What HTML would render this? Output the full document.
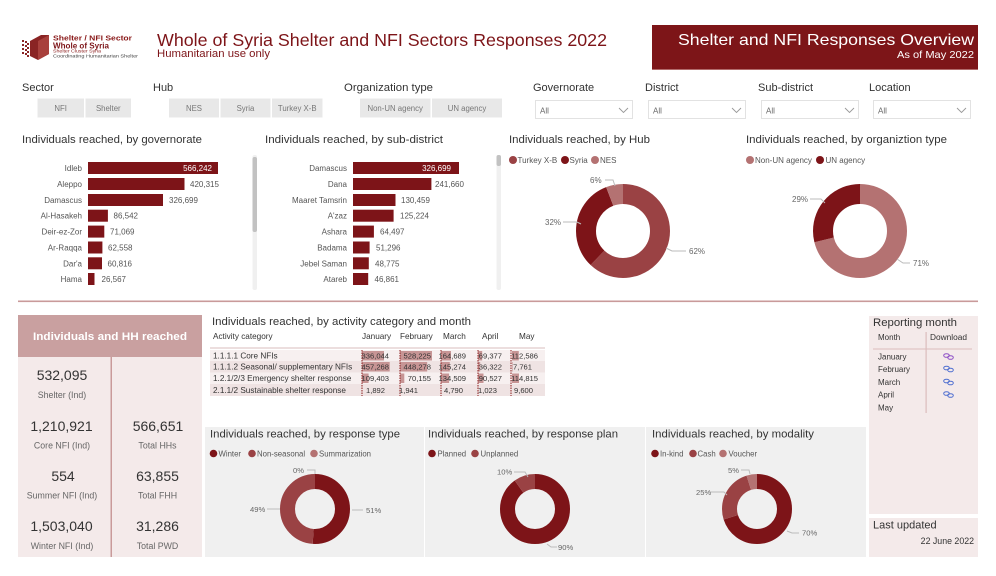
<!DOCTYPE html>
<html><head><meta charset="utf-8"><style>
html,body{margin:0;padding:0;background:#fff;width:996px;height:576px;overflow:hidden}
svg{display:block;font-family:"Liberation Sans",Arial,sans-serif}
</style></head><body>
<svg width="996" height="576" viewBox="0 0 996 576" xmlns="http://www.w3.org/2000/svg">
<rect width="996" height="576" fill="#fff"/>

<!-- Logo -->
<g fill="#8a2424">
<polygon points="30,41 41,35 49,35 49,54 38,60 30,56"/>
<polygon points="38,41 49,35 49,54 38,60" fill="#a8403c"/>
<rect x="22" y="40" width="2" height="2"/><rect x="25" y="41" width="2" height="2"/><rect x="22" y="44" width="2" height="2"/><rect x="25" y="45" width="2" height="2"/><rect x="22" y="48" width="2" height="2"/><rect x="25" y="49" width="2" height="2"/><rect x="22" y="52" width="2" height="2"/><rect x="25" y="53" width="2" height="2"/><rect x="27" y="43" width="2" height="2"/><rect x="27" y="47" width="2" height="2"/><rect x="27" y="51" width="2" height="2"/><rect x="27" y="55" width="2" height="2"/>
</g>
<text x="53" y="40.5" font-size="7" font-weight="bold" fill="#8a1a1a" textLength="79" lengthAdjust="spacingAndGlyphs">Shelter / NFI Sector</text>
<text x="53" y="48.5" font-size="8.5" font-weight="bold" fill="#7d1418" textLength="56" lengthAdjust="spacingAndGlyphs">Whole of Syria</text>
<text x="53" y="52.5" font-size="4.5" fill="#8a1a1a" textLength="48" lengthAdjust="spacingAndGlyphs">Shelter Cluster Syria</text>
<text x="53" y="57.5" font-size="4.5" fill="#444" textLength="85" lengthAdjust="spacingAndGlyphs">Coordinating Humanitarian Shelter</text>

<!-- Titles -->
<text x="157" y="46" font-size="17.5" fill="#7d1418" textLength="450" lengthAdjust="spacingAndGlyphs">Whole of Syria Shelter and NFI Sectors Responses 2022</text>
<text x="157" y="57" font-size="10.7" fill="#7d1418" textLength="113" lengthAdjust="spacingAndGlyphs">Humanitarian use only</text>

<rect x="652" y="25" width="326" height="45" fill="#7d1518"/>
<rect x="652" y="69" width="326" height="1" fill="#b26a6a"/>
<text x="974" y="45" font-size="16" fill="#fff" text-anchor="end" textLength="296" lengthAdjust="spacingAndGlyphs">Shelter and NFI Responses Overview</text>
<text x="974" y="58" font-size="10.4" fill="#fff" text-anchor="end" textLength="77" lengthAdjust="spacingAndGlyphs">As of May 2022</text>

<!-- Filters -->
<g font-size="11" fill="#333">
<text x="22" y="91">Sector</text>
<text x="153" y="91">Hub</text>
<text x="344" y="91" textLength="89" lengthAdjust="spacingAndGlyphs">Organization type</text>
<text x="533" y="91">Governorate</text>
<text x="645" y="91">District</text>
<text x="758" y="91">Sub-district</text>
<text x="869" y="91">Location</text>
</g>
<g fill="#e8e8e8">
<rect x="37.5" y="98.5" width="46.5" height="19"/>
<rect x="85.5" y="98.5" width="45.5" height="19"/>
<rect x="169" y="98.5" width="50" height="19"/>
<rect x="220.5" y="98.5" width="50" height="19"/>
<rect x="272" y="98.5" width="50.5" height="19"/>
<rect x="360" y="98.5" width="70.5" height="19"/>
<rect x="432" y="98.5" width="70" height="19"/>
</g>
<g font-size="7.8" fill="#777" text-anchor="middle">
<text x="60.7" y="111">NFI</text>
<text x="108.3" y="111">Shelter</text>
<text x="194" y="111">NES</text>
<text x="245.5" y="111">Syria</text>
<text x="297.2" y="111">Turkey X-B</text>
<text x="395.2" y="111">Non-UN agency</text>
<text x="467" y="111">UN agency</text>
</g>
<g fill="#fff" stroke="#e2e2e2" stroke-width="1">
<rect x="535.5" y="100.5" width="97" height="18"/>
<rect x="648.5" y="100.5" width="97" height="18"/>
<rect x="761.5" y="100.5" width="97" height="18"/>
<rect x="873.5" y="100.5" width="97" height="18"/>
</g>
<g font-size="8" fill="#666">
<text x="540" y="113.5">All</text>
<text x="653" y="113.5">All</text>
<text x="766" y="113.5">All</text>
<text x="878" y="113.5">All</text>
</g>
<g fill="none" stroke="#999" stroke-width="0.9">
<polyline points="619,108 623.5,112.5 628,108"/>
<polyline points="732,108 736.5,112.5 741,108"/>
<polyline points="845,108 849.5,112.5 854,108"/>
<polyline points="957,108 961.5,112.5 966,108"/>
</g>

<!-- Chart titles top -->
<g font-size="11.3" fill="#333">
<text x="22" y="143" textLength="180" lengthAdjust="spacingAndGlyphs">Individuals reached, by governorate</text>
<text x="265" y="143" textLength="178" lengthAdjust="spacingAndGlyphs">Individuals reached, by sub-district</text>
<text x="509" y="143" textLength="141" lengthAdjust="spacingAndGlyphs">Individuals reached, by Hub</text>
<text x="746" y="143" textLength="201" lengthAdjust="spacingAndGlyphs">Individuals reached, by organiztion type</text>
</g>

<!-- Bar chart 1 -->
<g fill="#7d1418">
<rect x="88" y="162" width="130" height="12"/>
<rect x="88" y="178" width="96.5" height="12"/>
<rect x="88" y="194" width="75" height="12"/>
<rect x="88" y="209.7" width="19.9" height="12"/>
<rect x="88" y="225.6" width="16.3" height="12"/>
<rect x="88" y="241.5" width="14.4" height="12"/>
<rect x="88" y="257.3" width="14" height="12"/>
<rect x="88" y="273" width="6.5" height="12"/>
</g>
<g font-size="8" fill="#555" text-anchor="end">
<text x="82" y="171">Idleb</text>
<text x="82" y="187">Aleppo</text>
<text x="82" y="203">Damascus</text>
<text x="82" y="218.7">Al-Hasakeh</text>
<text x="82" y="234.6">Deir-ez-Zor</text>
<text x="82" y="250.5">Ar-Raqqa</text>
<text x="82" y="266.3">Dar'a</text>
<text x="82" y="282">Hama</text>
</g>
<text x="212" y="171" font-size="8" fill="#fff" text-anchor="end">566,242</text>
<g font-size="8" fill="#555">
<text x="190" y="187">420,315</text>
<text x="169" y="203">326,699</text>
<text x="113.5" y="218.7">86,542</text>
<text x="110" y="234.6">71,069</text>
<text x="108" y="250.5">62,558</text>
<text x="107.5" y="266.3">60,816</text>
<text x="101.5" y="282">26,567</text>
</g>
<rect x="252.5" y="155" width="4.5" height="135" rx="2" fill="#f0f0f0"/>
<rect x="252.5" y="157" width="4.5" height="75" rx="2" fill="#c2c2c2"/>

<!-- Bar chart 2 -->
<g fill="#7d1418">
<rect x="353" y="162" width="106" height="12"/>
<rect x="353" y="178" width="78.4" height="12"/>
<rect x="353" y="194" width="42.5" height="12"/>
<rect x="353" y="209.7" width="40.6" height="12"/>
<rect x="353" y="225.6" width="20.9" height="12"/>
<rect x="353" y="241.5" width="16.6" height="12"/>
<rect x="353" y="257.3" width="15.8" height="12"/>
<rect x="353" y="273" width="15.2" height="12"/>
</g>
<g font-size="8" fill="#555" text-anchor="end">
<text x="347" y="171">Damascus</text>
<text x="347" y="187">Dana</text>
<text x="347" y="203">Maaret Tamsrin</text>
<text x="347" y="218.7">A'zaz</text>
<text x="347" y="234.6">Ashara</text>
<text x="347" y="250.5">Badama</text>
<text x="347" y="266.3">Jebel Saman</text>
<text x="347" y="282">Atareb</text>
</g>
<text x="451" y="171" font-size="8" fill="#fff" text-anchor="end">326,699</text>
<g font-size="8" fill="#555">
<text x="435" y="187">241,660</text>
<text x="401" y="203">130,459</text>
<text x="400" y="218.7">125,224</text>
<text x="380" y="234.6">64,497</text>
<text x="376" y="250.5">51,296</text>
<text x="375" y="266.3">48,775</text>
<text x="374.5" y="282">46,861</text>
</g>
<rect x="496.5" y="155" width="4.5" height="135" rx="2" fill="#f0f0f0"/>
<rect x="496.5" y="155" width="4.5" height="11" rx="2" fill="#c2c2c2"/>

<!-- Hub donut -->
<g font-size="8" fill="#555">
<circle cx="513" cy="160" r="4" fill="#9a4244"/><text x="517.5" y="163">Turkey X-B</text>
<circle cx="565" cy="160" r="4" fill="#7d1418"/><text x="569.5" y="163">Syria</text>
<circle cx="595" cy="160" r="4" fill="#b47272"/><text x="600" y="163">NES</text>
<circle cx="750" cy="160" r="4" fill="#b47272"/><text x="755" y="163">Non-UN agency</text>
<circle cx="820" cy="160" r="4" fill="#7d1418"/><text x="825.5" y="163">UN agency</text>
</g>
<g fill="none" stroke-width="20" transform="rotate(-90 623 231)">
<circle cx="623" cy="231" r="37" stroke="#9a4244" stroke-dasharray="144.14 300" stroke-dashoffset="0"/>
<circle cx="623" cy="231" r="37" stroke="#7d1418" stroke-dasharray="74.39 300" stroke-dashoffset="-144.14"/>
<circle cx="623" cy="231" r="37" stroke="#b47272" stroke-dasharray="13.95 300" stroke-dashoffset="-218.53"/>
</g>
<g fill="none" stroke-width="20" transform="rotate(-90 860 231)">
<circle cx="860" cy="231" r="37" stroke="#b47272" stroke-dasharray="165.06 300" stroke-dashoffset="0"/>
<circle cx="860" cy="231" r="37" stroke="#7d1418" stroke-dasharray="67.42 300" stroke-dashoffset="-165.06"/>
</g>
<g fill="none" stroke="#bbb" stroke-width="1">
<polyline points="666,248 672,251 686,251"/>
<polyline points="563,222 577,222 581,224"/>
<polyline points="605,180 613,180 615,186"/>
<polyline points="897,259 903,263 910,263"/>
<polyline points="810,199 821,199 825,203"/>
</g>
<g font-size="8" fill="#666">
<text x="689" y="254">62%</text>
<text x="545" y="225">32%</text>
<text x="590" y="183">6%</text>
<text x="913" y="266">71%</text>
<text x="792" y="202">29%</text>
</g>

<!-- Divider -->
<rect x="18" y="300.5" width="960" height="1.6" fill="#c99a9a"/>

<!-- KPI panel -->
<rect x="18" y="315" width="184" height="42" fill="#c9a0a0"/>
<rect x="18" y="357" width="184" height="200" fill="#f4eaea"/>
<rect x="110.5" y="357" width="1.5" height="200" fill="#c99a9a"/>
<text x="110" y="340" font-size="11.3" font-weight="bold" fill="#fff" text-anchor="middle" textLength="154" lengthAdjust="spacingAndGlyphs">Individuals and HH reached</text>
<g font-size="14" fill="#333" text-anchor="middle">
<text x="62" y="380">532,095</text>
<text x="61.5" y="431">1,210,921</text>
<text x="158" y="431">566,651</text>
<text x="63" y="481">554</text>
<text x="157.5" y="481">63,855</text>
<text x="61.5" y="531">1,503,040</text>
<text x="157.5" y="531">31,286</text>
</g>
<g font-size="8.8" fill="#666" text-anchor="middle">
<text x="62" y="398">Shelter (Ind)</text>
<text x="62" y="448.5">Core NFI (Ind)</text>
<text x="157.5" y="448.5">Total HHs</text>
<text x="62" y="498.5">Summer NFI (Ind)</text>
<text x="157.5" y="498.5">Total FHH</text>
<text x="62" y="549">Winter NFI (Ind)</text>
<text x="157.5" y="549">Total PWD</text>
</g>

<!-- Activity table -->
<text x="212" y="325" font-size="11" fill="#333" textLength="259" lengthAdjust="spacingAndGlyphs">Individuals reached, by activity category and month</text>
<g font-size="8.2" fill="#333">
<text x="213" y="339">Activity category</text>
<text x="362" y="339">January</text>
<text x="400" y="339">February</text>
<text x="443" y="339">March</text>
<text x="482" y="339">April</text>
<text x="519" y="339">May</text>
</g>
<rect x="210" y="347" width="335" height="2" fill="#ecdede"/>
<rect x="210" y="350" width="335" height="11" fill="#f7f0f0"/>
<rect x="210" y="361" width="335" height="11.5" fill="#efe3e3"/>
<rect x="210" y="372.5" width="335" height="11.5" fill="#f7f0f0"/>
<rect x="210" y="384" width="335" height="12" fill="#efe3e3"/>
<g fill="#c79595">
<rect x="362" y="351" width="22" height="9.5"/>
<rect x="400" y="351" width="32" height="9.5"/>
<rect x="441" y="351" width="10" height="9.5"/>
<rect x="478" y="351" width="4.2" height="9.5"/>
<rect x="512" y="351" width="6.8" height="9.5"/>
<rect x="362" y="362" width="27.7" height="9.5"/>
<rect x="400" y="362" width="27.2" height="9.5"/>
<rect x="441" y="362" width="8.8" height="9.5"/>
<rect x="478" y="362" width="2.2" height="9.5"/>
<rect x="512" y="362" width="0.6" height="9.5"/>
<rect x="362" y="373.5" width="6.6" height="9.5"/>
<rect x="400" y="373.5" width="4.3" height="9.5"/>
<rect x="441" y="373.5" width="8.1" height="9.5"/>
<rect x="478" y="373.5" width="5.5" height="9.5"/>
<rect x="512" y="373.5" width="7" height="9.5"/>
</g>
<g stroke="#8b1a1a" stroke-width="1" stroke-dasharray="1.5 1">
<line x1="362" y1="350" x2="362" y2="396"/>
<line x1="400" y1="350" x2="400" y2="396"/>
<line x1="441" y1="350" x2="441" y2="396"/>
<line x1="478" y1="350" x2="478" y2="396"/>
<line x1="511" y1="350" x2="511" y2="396"/>
</g>
<g font-size="8.2" fill="#333">
<text x="213" y="358.5">1.1.1.1 Core NFIs</text>
<text x="213" y="369.5">1.1.1.2 Seasonal/ supplementary NFIs</text>
<text x="213" y="381">1.2.1/2/3 Emergency shelter response</text>
<text x="213" y="393">2.1.1/2 Sustainable shelter response</text>
</g>
<g font-size="7.6" fill="#333" text-anchor="end">
<text x="389" y="358.5">336,044</text><text x="431" y="358.5">528,225</text><text x="466" y="358.5">164,689</text><text x="502" y="358.5">69,377</text><text x="538" y="358.5">112,586</text>
<text x="389" y="369.5">457,268</text><text x="431" y="369.5">448,278</text><text x="466" y="369.5">145,274</text><text x="502" y="369.5">36,322</text><text x="532" y="369.5">7,761</text>
<text x="389" y="381">109,403</text><text x="431" y="381">70,155</text><text x="466" y="381">134,509</text><text x="502" y="381">90,527</text><text x="538" y="381">114,815</text>
<text x="385" y="393">1,892</text><text x="418" y="393">1,941</text><text x="463" y="393">4,790</text><text x="497" y="393">1,023</text><text x="533" y="393">9,600</text>
</g>

<!-- Bottom panels -->
<rect x="205" y="427" width="219" height="130" fill="#f0f0f0"/>
<rect x="425" y="427" width="220" height="130" fill="#f0f0f0"/>
<rect x="646" y="427" width="220" height="130" fill="#f0f0f0"/>
<g font-size="11" fill="#333">
<text x="210" y="437.5" textLength="190" lengthAdjust="spacingAndGlyphs">Individuals reached, by response type</text>
<text x="428" y="437.5" textLength="190" lengthAdjust="spacingAndGlyphs">Individuals reached, by response plan</text>
<text x="652" y="437.5" textLength="162" lengthAdjust="spacingAndGlyphs">Individuals reached, by modality</text>
</g>
<g font-size="7.8" fill="#555">
<circle cx="213.5" cy="453.5" r="3.8" fill="#7d1418"/><text x="218.5" y="456.3">Winter</text>
<circle cx="252" cy="453.5" r="3.8" fill="#9a4244"/><text x="257" y="456.3">Non-seasonal</text>
<circle cx="314" cy="453.5" r="3.8" fill="#b47272"/><text x="319" y="456.3">Summarization</text>
<circle cx="432" cy="453.5" r="3.8" fill="#7d1418"/><text x="437.5" y="456.3">Planned</text>
<circle cx="475" cy="453.5" r="3.8" fill="#9a4244"/><text x="480.5" y="456.3">Unplanned</text>
<circle cx="655" cy="453.5" r="3.8" fill="#7d1418"/><text x="660" y="456.3">In-kind</text>
<circle cx="693" cy="453.5" r="3.8" fill="#9a4244"/><text x="697.5" y="456.3">Cash</text>
<circle cx="723" cy="453.5" r="3.8" fill="#b47272"/><text x="728.5" y="456.3">Voucher</text>
</g>
<g fill="none" stroke-width="15" transform="rotate(-90 315 509)">
<circle cx="315" cy="509" r="27.5" stroke="#7d1418" stroke-dasharray="88.12 200" stroke-dashoffset="0"/>
<circle cx="315" cy="509" r="27.5" stroke="#9a4244" stroke-dasharray="84.67 200" stroke-dashoffset="-88.12"/>
</g>
<g fill="none" stroke-width="15" transform="rotate(-90 535 509)">
<circle cx="535" cy="509" r="27.5" stroke="#7d1418" stroke-dasharray="155.51 200" stroke-dashoffset="0"/>
<circle cx="535" cy="509" r="27.5" stroke="#9a4244" stroke-dasharray="17.28 200" stroke-dashoffset="-155.51"/>
</g>
<g fill="none" stroke-width="15" transform="rotate(-90 757 509)">
<circle cx="757" cy="509" r="27.5" stroke="#7d1418" stroke-dasharray="120.95 200" stroke-dashoffset="0"/>
<circle cx="757" cy="509" r="27.5" stroke="#9a4244" stroke-dasharray="43.2 200" stroke-dashoffset="-120.95"/>
<circle cx="757" cy="509" r="27.5" stroke="#b47272" stroke-dasharray="8.64 200" stroke-dashoffset="-164.15"/>
</g>
<g fill="none" stroke="#bbb" stroke-width="1">
<line x1="352" y1="510" x2="363" y2="510"/>
<line x1="267" y1="509" x2="280" y2="509"/>
<polyline points="307,470 315,470 315,474"/>
<polyline points="514,472 525,472 528,477"/>
<polyline points="547,544 551,547 557,547"/>
<polyline points="787,531 792,533 799,533"/>
<polyline points="711,492 724,492 727,495"/>
<polyline points="741,470 749,470 750,474"/>
</g>
<g font-size="7.6" fill="#666">
<text x="366" y="513">51%</text>
<text x="250" y="512">49%</text>
<text x="293" y="473">0%</text>
<text x="497" y="474.5">10%</text>
<text x="558" y="550">90%</text>
<text x="802" y="535.5">70%</text>
<text x="696" y="495">25%</text>
<text x="728" y="473">5%</text>
</g>

<!-- Reporting month -->
<rect x="869" y="316" width="109" height="198" fill="#f4eaea"/>
<text x="873" y="326" font-size="11.2" fill="#333" textLength="84" lengthAdjust="spacingAndGlyphs">Reporting month</text>
<g font-size="8" fill="#333">
<text x="878" y="340">Month</text>
<text x="930" y="340" textLength="37" lengthAdjust="spacingAndGlyphs">Download</text>
</g>
<rect x="873" y="348.5" width="99" height="1" fill="#dbbcbc"/>
<rect x="925.5" y="332" width="1.2" height="81" fill="#dbbcbc"/>
<g font-size="8" fill="#333">
<text x="878" y="359.5">January</text>
<text x="878" y="372">February</text>
<text x="878" y="385">March</text>
<text x="878" y="397.5">April</text>
<text x="878" y="410.5">May</text>
</g>
<g fill="none" stroke-width="1">
<ellipse cx="946.5" cy="355.5" rx="2.8" ry="1.8" stroke="#8d4fc6"/><ellipse cx="950.5" cy="357.5" rx="2.8" ry="1.8" stroke="#8d4fc6"/>
<ellipse cx="946.5" cy="368" rx="2.8" ry="1.8" stroke="#4f6fd0"/><ellipse cx="950.5" cy="370" rx="2.8" ry="1.8" stroke="#4f6fd0"/>
<ellipse cx="946.5" cy="381" rx="2.8" ry="1.8" stroke="#4f6fd0"/><ellipse cx="950.5" cy="383" rx="2.8" ry="1.8" stroke="#4f6fd0"/>
<ellipse cx="946.5" cy="393.5" rx="2.8" ry="1.8" stroke="#4f6fd0"/><ellipse cx="950.5" cy="395.5" rx="2.8" ry="1.8" stroke="#4f6fd0"/>
</g>
<rect x="869" y="518" width="109" height="39" fill="#f4eaea"/>
<text x="873" y="528.5" font-size="11" fill="#333">Last updated</text>
<text x="974" y="544" font-size="8.8" fill="#333" text-anchor="end">22 June 2022</text>
</svg>
</body></html>
